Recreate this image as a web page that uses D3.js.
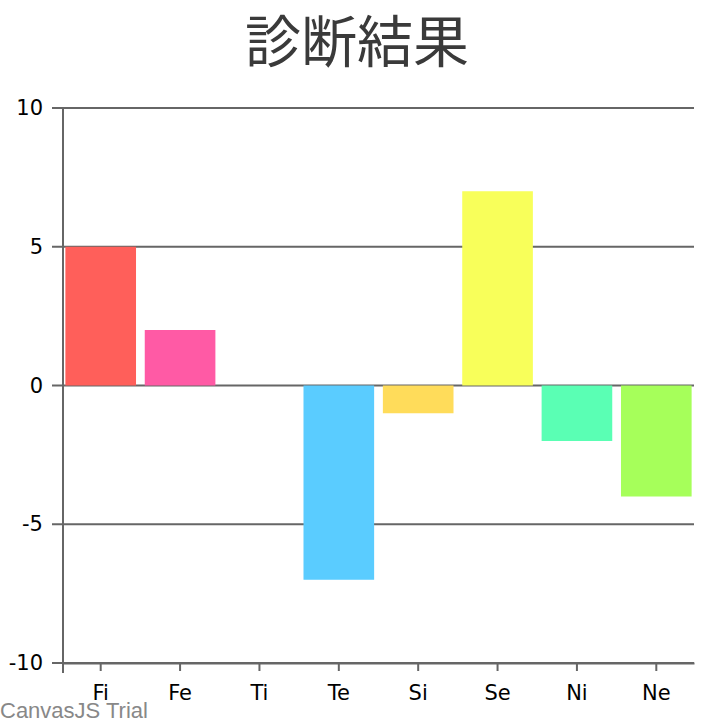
<!DOCTYPE html>
<html>
<head>
<meta charset="utf-8">
<script src="https://cdn.jsdelivr.net/npm/d3@7"></script>
<style>
  html, body { margin: 0; padding: 0; background: #fff; }
  svg { display: block; }
</style>
</head>
<body>
<svg id="chart"></svg>
<script>
const categories = ["Fi", "Fe", "Ti", "Te", "Si", "Se", "Ni", "Ne"];
const values = [5, 2, 0, -7, -1, 7, -2, -4];
const colors = ["#FF5F5A", "#FF5AA5", "#5ACCFF", "#5ACCFF", "#FFDC5A", "#F8FF5A", "#5AFFB4", "#A6FF5A"];
const yTicks = [-10, -5, 0, 5, 10];
const title = "診断結果";

const width = 714, height = 720;
const margin = { top: 108, right: 20, bottom: 57, left: 63 };
const innerW = width - margin.left - margin.right;
const innerH = height - margin.top - margin.bottom;

const svg = d3.select("#chart").attr("width", width).attr("height", height);

svg.append("text")
    .attr("x", width / 2)
    .attr("y", 62)
    .attr("text-anchor", "middle")
    .attr("font-family", "'Noto Sans CJK JP', sans-serif")
    .attr("font-size", 56)
    .attr("fill", "#3a3a3a")
    .text(title);

const g = svg.append("g").attr("transform", `translate(${margin.left},${margin.top})`);

const x = d3.scaleBand().domain(categories).range([0, innerW]).paddingInner(0.11).paddingOuter(0.03);
const y = d3.scaleLinear().domain([-10, 10]).range([innerH, 0]);

// gridlines
g.append("g")
    .selectAll("line")
    .data(yTicks)
    .join("line")
    .attr("x1", -11)
    .attr("x2", innerW)
    .attr("y1", d => y(d))
    .attr("y2", d => y(d))
    .attr("stroke", "#666")
    .attr("stroke-width", 2);

// y axis labels (hyphen minus like the original)
const yAxis = g.append("g")
    .call(d3.axisLeft(y).tickValues(yTicks).tickSize(0).tickPadding(20).tickFormat(d => String(d)));
yAxis.select(".domain").remove();
yAxis.selectAll("text")
    .attr("font-family", "'DejaVu Sans', sans-serif")
    .attr("font-size", 21)
    .attr("fill", "#000");

// bars
g.append("g")
    .selectAll("rect")
    .data(categories)
    .join("rect")
    .attr("x", d => x(d))
    .attr("width", x.bandwidth())
    .attr("y", (d, i) => y(Math.max(0, values[i])))
    .attr("height", (d, i) => Math.abs(y(values[i]) - y(0)))
    .attr("fill", (d, i) => colors[i]);

// y axis line
g.append("line")
    .attr("x1", 0).attr("x2", 0)
    .attr("y1", 0).attr("y2", innerH + 10)
    .attr("stroke", "#666")
    .attr("stroke-width", 2);

// x axis
const xAxis = g.append("g")
    .attr("transform", `translate(0,${innerH})`)
    .call(d3.axisBottom(x).tickSize(8).tickPadding(14).tickSizeOuter(0));
xAxis.select(".domain").attr("stroke", "#666").attr("stroke-width", 2);
xAxis.selectAll(".tick line").attr("stroke", "#666").attr("stroke-width", 2);
xAxis.selectAll("text")
    .attr("font-family", "'DejaVu Sans', sans-serif")
    .attr("font-size", 21)
    .attr("fill", "#000");

svg.append("text")
    .attr("x", 0)
    .attr("y", 718)
    .attr("font-family", "'Liberation Sans', Arial, sans-serif")
    .attr("font-size", 22)
    .attr("fill", "#888")
    .text("CanvasJS Trial");
</script>
</body>
</html>
